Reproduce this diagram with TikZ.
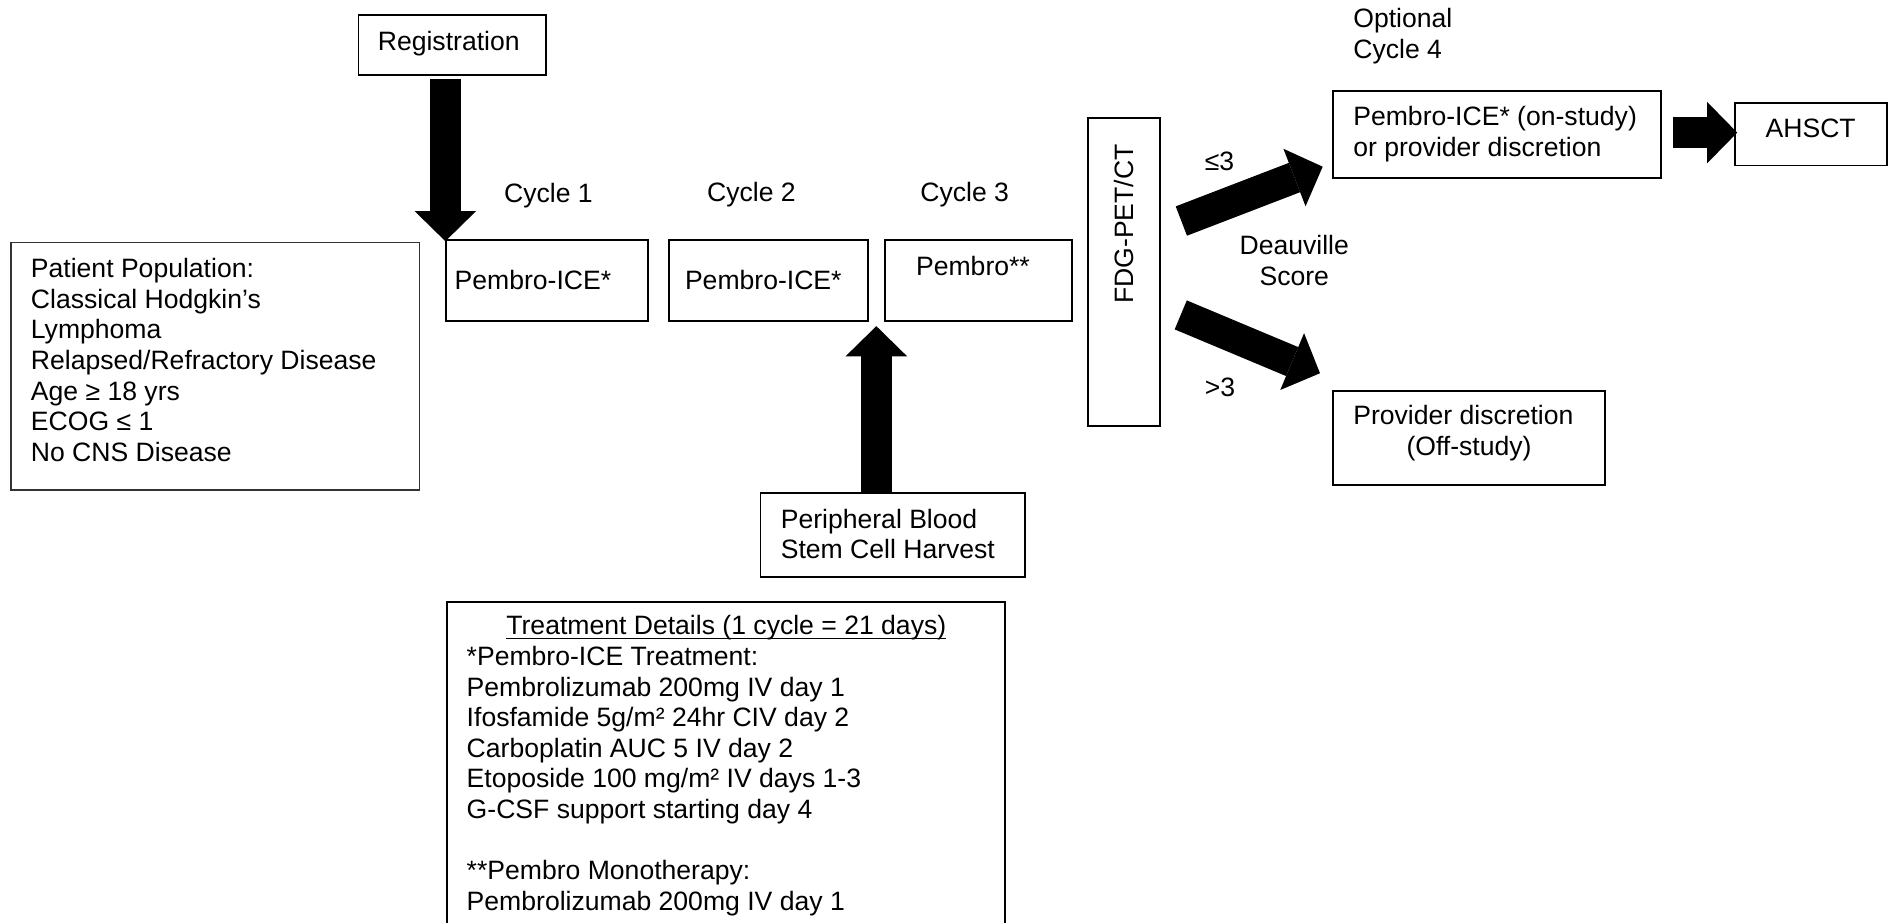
\documentclass[tikz,border=0pt]{standalone}
\usepackage{fontspec}
\setmainfont{Liberation Sans}
\usetikzlibrary{arrows.meta,calc,fit}
\newcommand{\dfont}{\fontsize{11pt}{12.65pt}\selectfont}
\newcommand{\uln}[1]{\setbox0\hbox{#1}\rlap{\rule[-1.8pt]{\wd0}{0.6pt}}\box0}
\newcommand{\lines}[1]{\begin{tabular}[t]{@{}l@{}}#1\end{tabular}}
\newcommand{\clines}[1]{\begin{tabular}[t]{@{}c@{}}#1\end{tabular}}
\begin{document}
\begin{tikzpicture}[x=0.5pt,y=-0.5pt,
  box/.style={draw, line width=0.8pt, inner sep=0pt},
  thinbox/.style={draw=black!80, line width=0.6pt, inner sep=0pt},
  txt/.style={inner sep=0pt, anchor=base west, font=\dfont},
  ctxt/.style={inner sep=0pt, anchor=base, font=\dfont},
  bigarrow/.style={line width=13pt, -{Triangle[length=12.5pt,width=25.5pt,line width=0pt]}}]
\fill[white] (0,0) rectangle (1568,764);
\clip (0,0) rectangle (1568,764);

% boxes
\node[box, fit={(296.8,12.1) (452.3,62.4)}] (reg) {};
\node[box, fit={(369.5,199) (536.6,265.7)}] (p1) {};
\node[box, fit={(553.8,199) (718.3,265.7)}] (p2) {};
\node[box, fit={(732.3,199) (887.4,265.7)}] (p3) {};
\node[thinbox, fit={(9.2,200.9) (347.4,405.6)}] (pat) {};
\node[box, fit={(629.6,408.4) (848.3,477.4)}] (pbsc) {};
\node[box, fit={(369.9,498) (832.1,800)}] (trt) {};
\node[box, fit={(901,98) (960,353)}] (fdg) {};
\node[box, fit={(1103.2,75) (1375,147.6)}] (pi4) {};
\node[box, fit={(1436,85) (1562,137)}] (ahsct) {};
\node[box, fit={(1103.2,323.4) (1329,401.5)}] (prov) {};

% texts
\node[ctxt] (regt) at (371.5,41.4) {Registration};
\node[txt] (cyc1) at (417,168) {Cycle 1};
\node[txt] (cyc2) at (585,167) {Cycle 2};
\node[txt] (cyc3) at (761.6,167) {Cycle 3};
\node[txt] (p1t) at (376,240) {Pembro-ICE*};
\node[txt] (p2t) at (566.7,240) {Pembro-ICE*};
\node[txt] (p3t) at (758,227.7) {Pembro**};
\node[txt] (patt) at (25.2,230) {\lines{Patient Population:\\ Classical Hodgkin’s\\ Lymphoma\\ Relapsed/Refractory Disease\\ Age ≥ 18 yrs\\ ECOG ≤ 1\\ No CNS Disease}};
\node[txt] (pbsct) at (646,437.4) {\lines{Peripheral Blood\\ Stem Cell Harvest}};
\node[ctxt] (title) at (601.3,525.7) {\uln{Treatment Details (1 cycle = 21 days)}};
\node[txt] (trtt) at (386,551) {\lines{{}*Pembro-ICE Treatment:\\ Pembrolizumab 200mg IV day 1\\ Ifosfamide 5g/m² 24hr CIV day 2\\ Carboplatin AUC 5 IV day 2\\ Etoposide 100 mg/m² IV days 1-3\\ G-CSF support starting day 4\\ {}\\ {}**Pembro Monotherapy:\\ Pembrolizumab 200mg IV day 1}};
\node[inner sep=0pt, font=\dfont, rotate=90] (fdgt) at (930.5,185.5) {FDG-PET/CT};
\node[txt] (le3) at (997,141.3) {≤3};
\node[txt] (gt3) at (997,328.4) {>3};
\node[ctxt] (deau) at (1071.5,211) {\clines{Deauville\\ Score}};
\node[txt] (opt) at (1120,22.9) {\lines{Optional\\ Cycle 4}};
\node[txt] (pi4t) at (1120,104.3) {\lines{Pembro-ICE* (on-study)\\ or provider discretion}};
\node[ctxt] (ahsctt) at (1499,113.7) {AHSCT};
\node[txt] (provt) at (1120,351.8) {Provider discretion};
\node[txt] (offt) at (1164,376.7) {(Off-study)};

% block arrows
\coordinate (uptip) at (725.5,270);
\coordinate (ua) at (978,183);
\coordinate (ub) at (1095,138);
\coordinate (la) at (977.5,260.7);
\coordinate (lb) at (1092.8,309);
\draw[bigarrow] ($(reg.south -| p1.north west)+(0,2.6)$) -- ($(p1.north west)+(0,1.5)$);
\draw[bigarrow] (uptip |- pbsc.north) -- (uptip);
\draw[bigarrow] (ua) -- (ub);
\draw[bigarrow] (la) -- (lb);
\draw[bigarrow] ($(pi4.east)+(9,-1.5)$) -- ($(ahsct.west)+(3,-1.2)$);
\end{tikzpicture}
\end{document}
